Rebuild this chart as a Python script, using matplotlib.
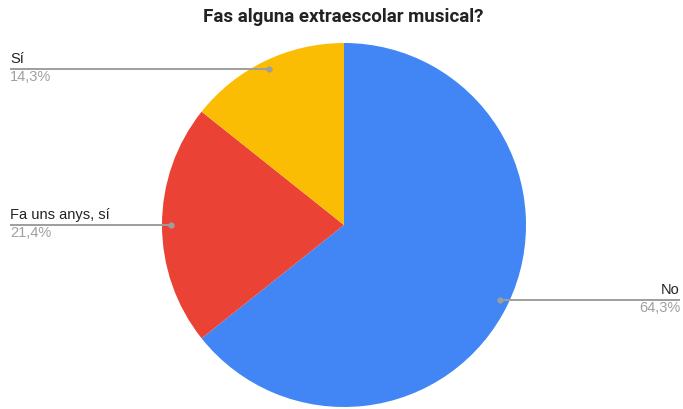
import math

import matplotlib

matplotlib.use("Agg")

import matplotlib.pyplot as plt  # noqa: E402

# Chart data
labels = ["No", "Fa uns anys, sí", "Sí"]
values = [64.3, 21.4, 14.3]
pct_labels = ["64,3%", "21,4%", "14,3%"]
colors = ["#4285F4", "#EA4335", "#FBBC04"]

TITLE = "Fas alguna extraescolar musical?"

W, H = 683, 409
CX, CY, R = 344, H - 225, 182

plt.rcParams["font.family"] = ["Roboto", "DejaVu Sans"]

fig = plt.figure(figsize=(W / 100, H / 100), dpi=100)
ax = fig.add_axes([0, 0, 1, 1])
ax.set_xlim(0, W)
ax.set_ylim(0, H)
ax.set_aspect("equal")
ax.set_axis_off()

wedges, _ = ax.pie(
    values,
    colors=colors,
    startangle=90,
    counterclock=False,
    center=(CX, CY),
    radius=R,
    wedgeprops={"linewidth": 0},
)
ax.set_xlim(0, W)
ax.set_ylim(0, H)

line_col = "#9E9E9E"
lbl_font = ["Liberation Sans", "DejaVu Sans"]
for w, name, pct in zip(wedges, labels, pct_labels):
    mid = math.radians((w.theta1 + w.theta2) / 2)
    dx = CX + 0.95 * R * math.cos(mid)
    dy = CY + 0.95 * R * math.sin(mid)
    if math.cos(mid) >= 0:
        x_end, ha = W - 3, "right"
    else:
        x_end, ha = 10, "left"
    ax.plot([dx, x_end], [dy, dy], color=line_col, lw=1.4, solid_capstyle="butt", zorder=3)
    ax.plot([dx], [dy], "o", color=line_col, ms=3.5, zorder=4)
    ax.text(x_end, dy + 3, name, ha=ha, va="bottom", fontsize=10.5,
            color="#222222", family=lbl_font)
    ax.text(x_end, dy - 1, pct, ha=ha, va="top", fontsize=10.5,
            color="#A0A0A0", family=lbl_font)

ax.text(W / 2 + 2, H - 17, TITLE, ha="center", va="center",
        fontsize=13.5, fontweight="bold", color="#222222")

fig.savefig("out.png", dpi=100, facecolor="white")
